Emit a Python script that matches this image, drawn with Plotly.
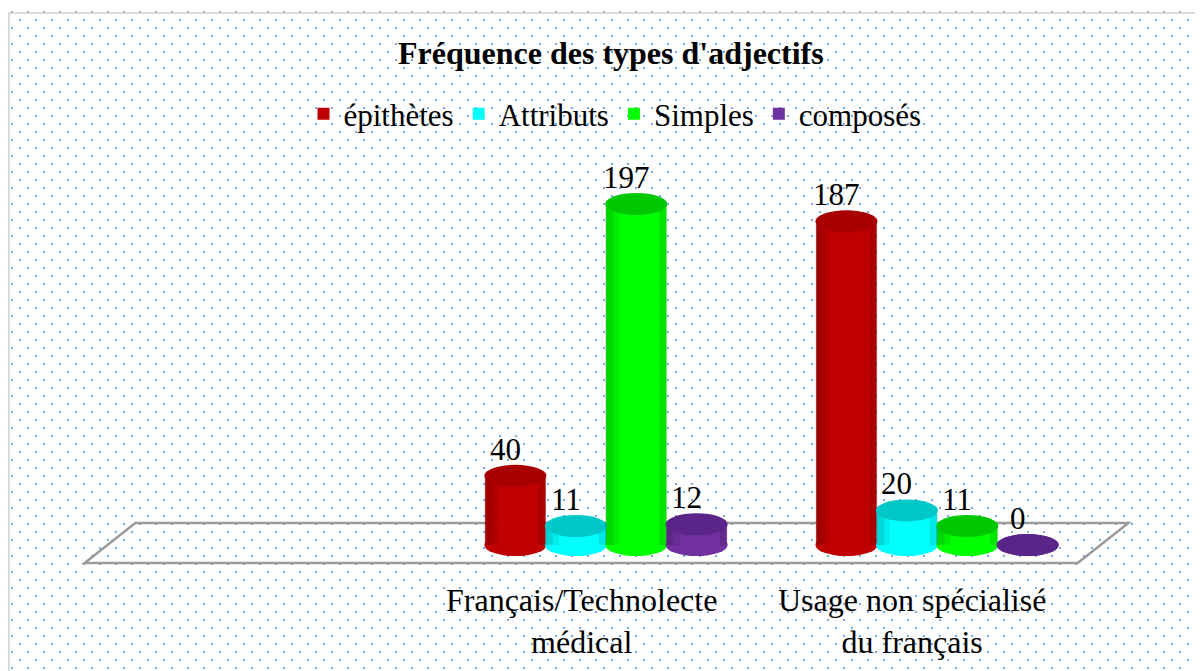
import base64
import plotly.graph_objects as go

# ---- data ----
categories = ["", "Français/Technolecte<br>médical", "Usage non spécialisé<br>du français"]
series_names = ["épithètes", "Attributs", "Simples", "composés"]
epithetes = [None, 40, 187]
attributs = [None, 11, 20]
simples = [None, 197, 11]
composes = [None, 12, 0]

# ---- styles ----
W, H = 1203, 671
OFF = 8  # page body margin compensation
colors = ["#c00000", "#00ffff", "#00ff00", "#7030a0"]
cap_colors = ["#a80000", "#00c8c8", "#00c800", "#5a2488"]
FONT = "Liberation Serif, Times New Roman, serif"
BARGAP = 0.27
n_series = 4
bar_w = (1 - BARGAP) / n_series
x = list(range(len(categories)))
series_vals = [epithetes, attributs, simples, composes]


def px_x(p):
    return (p - OFF) / W


def px_y(p):
    return 1 - (p - OFF) / H


fig = go.Figure()
for name, vals, col in zip(series_names, series_vals, colors):
    fig.add_trace(go.Bar(
        x=x, y=vals, name=name, marker=dict(color=col, line=dict(width=0)),
        hoverinfo="y+name",
    ))

shapes = []
annotations = []

# floor (decorative 3D base)
shapes.append(dict(
    type="path", xref="x", yref="y",
    path=f"M {-0.5-0.075},{-10.4} L {2.5-0.075},{-10.4} L {2.5+0.078},{12.7} L {-0.5+0.078},{12.7} Z",
    line=dict(color="#9a9a9a", width=2.5), fillcolor="rgba(0,0,0,0)", layer="below",
))

# cylinder caps, shading + data labels
for i, (vals, col, cap) in enumerate(zip(series_vals, colors, cap_colors)):
    for j, v in enumerate(vals):
        if v is None:
            continue
        xc = x[j] + (i - (n_series - 1) / 2) * bar_w
        # bottom ellipse
        shapes.append(dict(type="circle", xref="x", yref="y", xsizemode="pixel", ysizemode="pixel",
                           xanchor=xc, yanchor=0, x0=-31, x1=31, y0=-11, y1=11,
                           fillcolor=col if v > 0 else cap, line=dict(width=0), layer="above"))
        if v > 0:
            # side shading strips
            shapes.append(dict(type="rect", xref="x", yref="y", xsizemode="pixel",
                               xanchor=xc, x0=-31, x1=-23, y0=0, y1=v,
                               fillcolor="rgba(0,0,0,0.16)", line=dict(width=0), layer="above"))
            shapes.append(dict(type="rect", xref="x", yref="y", xsizemode="pixel",
                               xanchor=xc, x0=-23, x1=-17, y0=0, y1=v,
                               fillcolor="rgba(0,0,0,0.07)", line=dict(width=0), layer="above"))
            shapes.append(dict(type="rect", xref="x", yref="y", xsizemode="pixel",
                               xanchor=xc, x0=23, x1=31, y0=0, y1=v,
                               fillcolor="rgba(0,0,0,0.10)", line=dict(width=0), layer="above"))
        # top ellipse
        shapes.append(dict(type="circle", xref="x", yref="y", xsizemode="pixel", ysizemode="pixel",
                           xanchor=xc, yanchor=v, x0=-31, x1=31, y0=-11, y1=11,
                           fillcolor=cap, line=dict(width=0), layer="above"))
        annotations.append(dict(xref="x", yref="y", x=xc, y=v, text=str(v), showarrow=False,
                                yanchor="bottom", yshift=7, xshift=-10,
                                font=dict(family=FONT, size=31, color="black")))

# category labels
for j, c in enumerate(categories):
    if c:
        annotations.append(dict(xref="x", yref="paper", x=x[j], y=px_y(621), text=c,
                                showarrow=False, xshift=-25, yanchor="middle",
                                font=dict(family=FONT, size=32, color="black")))

# title
annotations.append(dict(xref="paper", yref="paper", x=px_x(611), y=px_y(53),
                        text="<b>Fréquence des types d'adjectifs</b>", showarrow=False,
                        yanchor="middle", font=dict(family=FONT, size=32, color="black")))

# outer chart border
shapes.append(dict(type="rect", xref="paper", yref="paper", x0=px_x(9), x1=1.02, y0=-0.02, y1=px_y(13),
                   line=dict(color="#cfcfcf", width=1.5), fillcolor="rgba(0,0,0,0)", layer="above"))

# dotted background pattern
svg = (f'<svg xmlns="http://www.w3.org/2000/svg" width="{W}" height="{H}">'
       '<defs><pattern id="p" width="16" height="16" patternUnits="userSpaceOnUse">'
       '<circle cx="4" cy="4" r="1.1" fill="#5b95d0"/>'
       '<circle cx="12" cy="12" r="1.1" fill="#5b95d0"/>'
       '</pattern></defs>'
       f'<rect width="{W}" height="{H}" fill="url(#p)"/></svg>')
src = "data:image/svg+xml;base64," + base64.b64encode(svg.encode()).decode()

fig.update_layout(
    width=W, height=H,
    margin=dict(l=0, r=0, t=0, b=0),
    paper_bgcolor="white", plot_bgcolor="rgba(0,0,0,0)",
    barmode="group", bargap=BARGAP, bargroupgap=0,
    showlegend=True,
    legend=dict(orientation="h", x=px_x(615), xanchor="center", y=px_y(114), yanchor="middle",
                font=dict(family=FONT, size=31, color="black"), bgcolor="rgba(0,0,0,0)",
                itemwidth=30, traceorder="normal"),
    xaxis=dict(domain=[px_x(80), px_x(1140)], range=[-0.589, 2.613], showticklabels=False,
               showgrid=False, zeroline=False, showline=False, ticks=""),
    yaxis=dict(domain=[px_y(575), px_y(150)], range=[-17.3, 228.2], showticklabels=False,
               showgrid=False, zeroline=False, showline=False, ticks=""),
    shapes=shapes, annotations=annotations,
    images=[dict(source=src, xref="paper", yref="paper", x=0, y=1, sizex=1, sizey=1,
                 xanchor="left", yanchor="top", sizing="stretch", layer="below")],
)

fig.write_html("out.html")
